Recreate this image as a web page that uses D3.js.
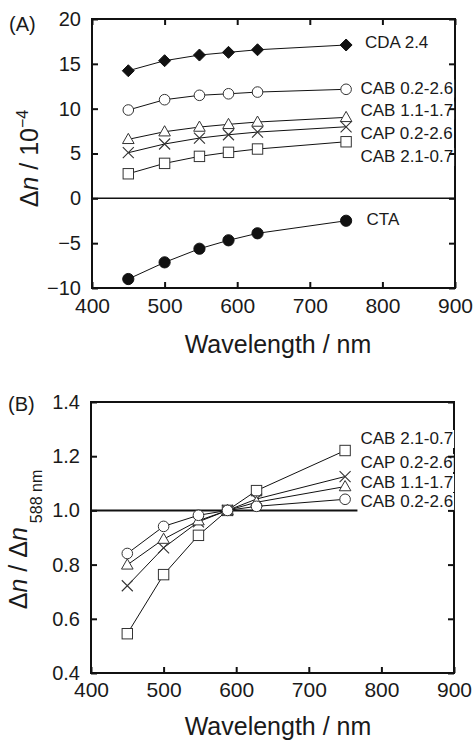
<!DOCTYPE html>
<html>
<head>
<meta charset="utf-8">
<script src="https://cdn.jsdelivr.net/npm/d3@7"></script>
<style>
  html, body { margin: 0; padding: 0; background: #fff; }
  svg { display: block; }
  text { font-family: "Liberation Sans", Arial, Helvetica, sans-serif; fill: #1a1a1a; }
</style>
</head>
<body>
<svg id="chart" width="474" height="742"></svg>
<script>
// ---------------- DATA ----------------
const wavelengths = [450, 500, 548, 588, 628, 750];
const xTicks = [400, 500, 600, 700, 800, 900];

// Panel A: birefringence Δn (×10^-4)
const seriesNamesA = ["CDA 2.4", "CAB 0.2-2.6", "CAB 1.1-1.7", "CAP 0.2-2.6", "CAB 2.1-0.7", "CTA"];
const cda24A   = [14.23, 15.35, 15.98, 16.28, 16.57, 17.10];
const cab0226A = [9.85, 11.00, 11.49, 11.66, 11.85, 12.16];
const cab1117A = [6.58, 7.43, 7.95, 8.25, 8.51, 9.03];
const cap0226A = [5.09, 6.06, 6.72, 7.09, 7.39, 7.98];
const cab2107A = [2.74, 3.90, 4.68, 5.13, 5.50, 6.31];
const ctaA     = [-9.00, -7.14, -5.62, -4.68, -3.90, -2.50];
const yTicksA = [-10, -5, 0, 5, 10, 15, 20];

// Panel B: normalized Δn / Δn(588 nm)
const seriesNamesB = ["CAB 2.1-0.7", "CAP 0.2-2.6", "CAB 1.1-1.7", "CAB 0.2-2.6"];
const cab2107B = [0.545, 0.763, 0.908, 1.0, 1.073, 1.221];
const cap0226B = [0.722, 0.862, 0.958, 1.0, 1.042, 1.125];
const cab1117B = [0.799, 0.894, 0.962, 1.0, 1.030, 1.088];
const cab0226B = [0.841, 0.941, 0.982, 1.0, 1.015, 1.041];
const yTicksB = [0.4, 0.6, 0.8, 1.0, 1.2, 1.4];

// ---------------- LAYOUT ----------------
const svg = d3.select("#chart");
const FONT_TICK = 20, FONT_XTICK = 21, FONT_TITLE = 25, FONT_LABEL = 17;

const panelA = { x0: 92, x1: 455, y0: 19, y1: 288 };
const panelB = { x0: 91, x1: 454, y0: 402, y1: 673 };

const markerStroke = "#333";

function drawMarker(g, type, x, y) {
  const m = g.append("g").attr("transform", `translate(${x},${y})`);
  switch (type) {
    case "diamond":
      m.append("path").attr("d", "M0,-6L6,0L0,6L-6,0Z").attr("fill", "#111").attr("stroke", "#111");
      break;
    case "circleFilled":
      m.append("circle").attr("r", 5.6).attr("fill", "#111").attr("stroke", "#111");
      break;
    case "circle":
      m.append("circle").attr("r", 5.3).attr("fill", "#fff").attr("stroke", markerStroke).attr("stroke-width", 1);
      break;
    case "triangle":
      m.append("path").attr("d", "M0,-6L5.8,4.2L-5.8,4.2Z").attr("fill", "#fff").attr("stroke", markerStroke).attr("stroke-width", 1);
      break;
    case "cross":
      m.append("path").attr("d", "M-5.5,-5.5L5.5,5.5M-5.5,5.5L5.5,-5.5").attr("fill", "none").attr("stroke", markerStroke).attr("stroke-width", 1.1);
      break;
    case "square":
      m.append("rect").attr("x", -5.2).attr("y", -5.2).attr("width", 10.4).attr("height", 10.4)
        .attr("fill", "#fff").attr("stroke", markerStroke).attr("stroke-width", 1);
      break;
  }
}

function drawSeries(g, x, y, values) {
  const pts = wavelengths.map((w, i) => [x(w), y(values[i])]);
  g.append("path")
    .attr("d", d3.line()(pts))
    .attr("fill", "none").attr("stroke", "#111").attr("stroke-width", 1);
}

function axes(g, P, x, y, yTicks, yFmt, opts) {
  const bottom = g.append("g").attr("transform", `translate(0,${P.y1})`)
    .call(d3.axisBottom(x).tickValues(xTicks).tickSizeInner(-6).tickSizeOuter(0).tickPadding(opts.xPad));
  bottom.select(".domain").remove();
  bottom.selectAll("text").attr("font-size", FONT_XTICK).attr("font-family", null);

  const left = g.append("g").attr("transform", `translate(${P.x0},0)`)
    .call(d3.axisLeft(y).tickValues(yTicks).tickFormat(yFmt).tickSizeInner(-6).tickSizeOuter(0).tickPadding(11));
  left.select(".domain").remove();
  left.selectAll("text").attr("font-size", FONT_TICK).attr("font-family", null);

  const right = g.append("g").attr("transform", `translate(${P.x1},0)`)
    .call(d3.axisRight(y).tickValues(yTicks).tickFormat("").tickSizeInner(-6).tickSizeOuter(0));
  right.select(".domain").remove();

  if (opts.top) {
    const top = g.append("g").attr("transform", `translate(0,${P.y0})`)
      .call(d3.axisTop(x).tickValues(xTicks).tickFormat("").tickSizeInner(-6).tickSizeOuter(0));
    top.select(".domain").remove();
  }
  g.selectAll(".tick line").attr("stroke", "#111").attr("stroke-width", 2);
  g.selectAll(".tick text").attr("fill", "#1a1a1a");
}

function border(g, P) {
  g.append("rect").attr("x", P.x0).attr("y", P.y0)
    .attr("width", P.x1 - P.x0).attr("height", P.y1 - P.y0)
    .attr("fill", "none").attr("stroke", "#111").attr("stroke-width", 2);
}

function addLabels(g, labels) {
  const nodes = labels.map(l => g.append("text")
    .attr("x", l.x).attr("y", l.y).attr("font-size", FONT_LABEL).text(l.text));
  nodes.forEach(n => {
    const b = n.node().getBBox();
    g.insert("rect", "text").attr("x", b.x - 1).attr("y", b.y + 1).attr("width", b.width + 2).attr("height", b.height - 1)
      .attr("fill", "#fff");
  });
  nodes.forEach(n => n.raise());
}

// ---------------- PANEL A ----------------
{
  const P = panelA;
  const x = d3.scaleLinear().domain([400, 900]).range([P.x0, P.x1]);
  const y = d3.scaleLinear().domain([-10, 20]).range([P.y1, P.y0]);
  const g = svg.append("g");

  g.append("line").attr("x1", P.x0).attr("x2", P.x1).attr("y1", y(0)).attr("y2", y(0))
    .attr("stroke", "#111").attr("stroke-width", 1.5);

  border(g, P);

  addLabels(g.append("g"), [
    { text: seriesNamesA[0], x: 365, y: 48 },
    { text: seriesNamesA[1], x: 360.5, y: 93.5 },
    { text: seriesNamesA[2], x: 360.5, y: 115.5 },
    { text: seriesNamesA[3], x: 360.5, y: 139 },
    { text: seriesNamesA[4], x: 360.5, y: 162 },
    { text: seriesNamesA[5], x: 366.5, y: 224.5 }
  ]);

  axes(g, P, x, y, yTicksA, d3.format("d"), { xPad: 10, top: true });

  const dataG = g.append("g");
  const series = [
    [cda24A, "diamond"], [cab0226A, "circle"], [cab1117A, "triangle"],
    [cap0226A, "cross"], [cab2107A, "square"], [ctaA, "circleFilled"]
  ];
  series.forEach(([vals]) => drawSeries(dataG, x, y, vals));
  series.forEach(([vals, type]) => wavelengths.forEach((w, i) => drawMarker(dataG, type, x(w), y(vals[i]))));

  g.append("text").attr("x", 9).attr("y", 31).attr("font-size", FONT_TICK).text("(A)");

  const t = g.append("text").attr("transform", `translate(38,${(P.y0 + P.y1) / 2 + 5}) rotate(-90)`)
    .attr("text-anchor", "middle").attr("font-size", FONT_TITLE);
  t.append("tspan").text("Δ");
  t.append("tspan").attr("font-style", "italic").text("n");
  t.append("tspan").text(" / 10");
  t.append("tspan").attr("font-size", 16).attr("dy", -10).text("−4");

  g.append("text").attr("x", 278).attr("y", 353).attr("text-anchor", "middle")
    .attr("font-size", FONT_TITLE).text("Wavelength / nm");
}

// ---------------- PANEL B ----------------
{
  const P = panelB;
  const x = d3.scaleLinear().domain([400, 900]).range([P.x0, P.x1]);
  const y = d3.scaleLinear().domain([0.4, 1.4]).range([P.y1, P.y0]);
  const g = svg.append("g");

  border(g, P);

  g.append("line").attr("x1", P.x0).attr("x2", x(767)).attr("y1", y(1.0)).attr("y2", y(1.0))
    .attr("stroke", "#111").attr("stroke-width", 2);

  addLabels(g.append("g"), [
    { text: seriesNamesB[0], x: 360.5, y: 444 },
    { text: seriesNamesB[1], x: 360.5, y: 468 },
    { text: seriesNamesB[2], x: 360.5, y: 488 },
    { text: seriesNamesB[3], x: 360.5, y: 507 }
  ]);

  axes(g, P, x, y, yTicksB, d3.format(".1f"), { xPad: 9, top: false });

  const dataG = g.append("g");
  const series = [
    [cab2107B, "square"], [cap0226B, "cross"], [cab1117B, "triangle"], [cab0226B, "circle"]
  ];
  series.forEach(([vals]) => drawSeries(dataG, x, y, vals));
  series.forEach(([vals, type]) => wavelengths.forEach((w, i) => drawMarker(dataG, type, x(w), y(vals[i]))));

  g.append("text").attr("x", 8).attr("y", 411).attr("font-size", FONT_TICK).text("(B)");

  const t = g.append("text").attr("transform", `translate(27,${(P.y0 + P.y1) / 2 + 2}) rotate(-90)`)
    .attr("text-anchor", "middle").attr("font-size", FONT_TITLE);
  t.append("tspan").text("Δ");
  t.append("tspan").attr("font-style", "italic").text("n");
  t.append("tspan").text(" / Δ");
  t.append("tspan").attr("font-style", "italic").text("n");
  t.append("tspan").attr("font-size", 16).attr("dx", 4).attr("dy", 15).text("588 nm");

  g.append("text").attr("x", 278).attr("y", 735).attr("text-anchor", "middle")
    .attr("font-size", FONT_TITLE).text("Wavelength / nm");
}
</script>
</body>
</html>
